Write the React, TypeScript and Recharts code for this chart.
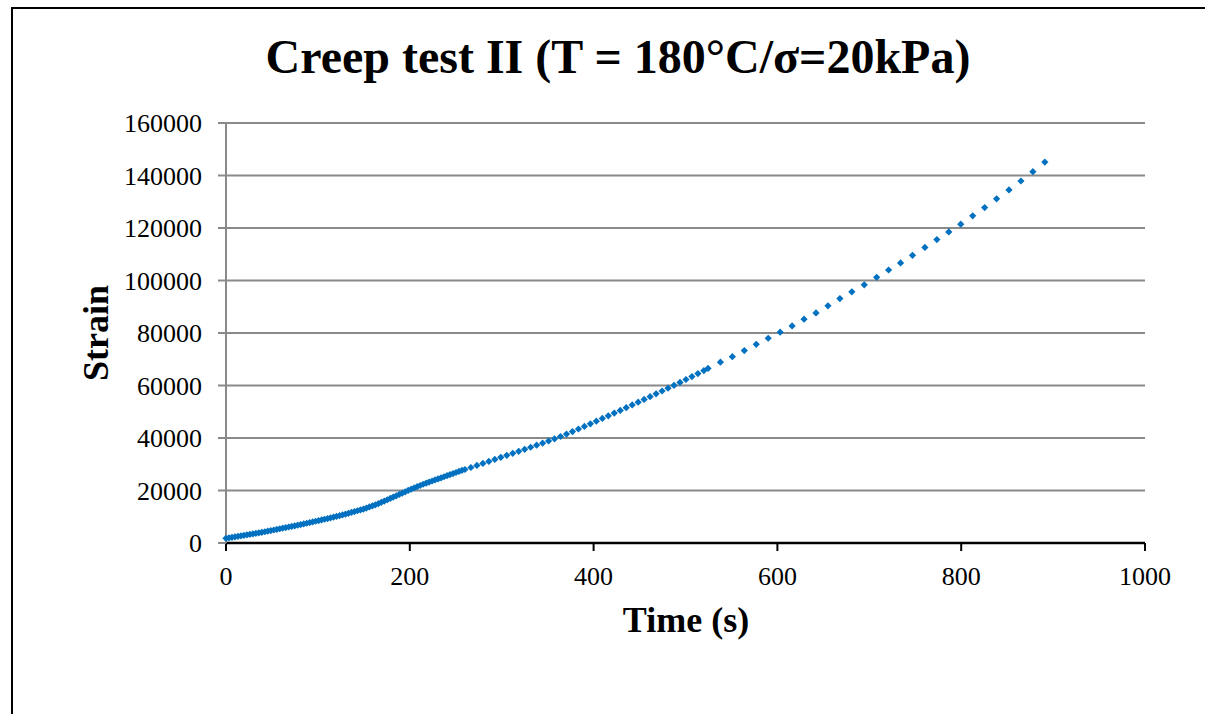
import { ScatterChart, Scatter, XAxis, YAxis, CartesianGrid } from 'recharts';

// creep test II: strain vs time
// primary / secondary stage, sampled densely
const EARLY: [number, number][] = [
  [0, 1800], [3.25, 1990], [6.5, 2180], [9.75, 2370], [13, 2550], [16.25, 2740], [19.5, 2930], [22.75, 3120],
  [26, 3310], [29.25, 3500], [32.5, 3690], [35.75, 3870], [39, 4060], [42.25, 4280], [45.5, 4500], [48.75, 4730],
  [52, 4960], [55.25, 5190], [58.5, 5420], [61.75, 5640], [65, 5870], [68.25, 6100], [71.5, 6330], [74.75, 6550],
  [78, 6780], [81.25, 7020], [84.5, 7270], [87.75, 7520], [91, 7780], [94.25, 8030], [97.5, 8290], [100.75, 8540],
  [104, 8790], [107.25, 9050], [110.5, 9300], [113.75, 9580], [117, 9860], [120.25, 10140], [123.5, 10420], [126.75, 10700],
  [130, 10980], [133.25, 11310], [136.5, 11630], [139.75, 11960], [143, 12280], [146.25, 12610], [149.5, 12930], [152.75, 13320],
  [156, 13730], [159.25, 14140], [162.5, 14540], [165.75, 14970], [169, 15480], [172.25, 15980], [175.5, 16480], [178.75, 16990],
  [182, 17490], [185.25, 17990], [188.5, 18500], [191.75, 19000], [195, 19510], [198.25, 20010], [201.5, 20500], [204.75, 20970],
  [208, 21440], [211.25, 21910], [214.5, 22380], [217.75, 22800], [221, 23210], [224.25, 23610], [227.5, 24020], [230.75, 24420],
  [234, 24830], [237.25, 25240], [240.5, 25640], [243.75, 26050], [247, 26460], [250.25, 26860], [253.5, 27270], [256.75, 27670],
];

// middle part, every ~6.5 s
const MIDDLE: [number, number][] = [
  [260, 28000], [266.5, 28770], [273, 29540], [279.5, 30310], [286, 31080], [292.5, 31850], [299, 32620], [305.5, 33390],
  [312, 34160], [318.5, 34930], [325, 35700], [331.5, 36470], [338, 37250], [344.5, 38040], [351, 38860], [357.5, 39700],
  [364, 40580], [370.5, 41500], [377, 42450], [383.5, 43420], [390, 44410], [396.5, 45410], [403, 46420], [409.5, 47440],
  [416, 48460], [422.5, 49490], [429, 50520], [435.5, 51560], [442, 52600], [448.5, 53650], [455, 54700], [461.5, 55760],
  [468, 56830], [474.5, 57900], [481, 58980], [487.5, 60070], [494, 61170], [500.5, 62280], [507, 63400], [513.5, 64530],
  [520, 65670], [524.5, 66500],
];

// late part, every ~13 s
const LATE: [number, number][] = [
  [538, 68900], [551, 71000], [564, 73300], [577, 75700], [590, 78000], [603, 80300], [616, 82700], [629, 85250],
  [642, 87650], [655, 90350], [668, 93100], [681, 95700], [694.5, 98350], [708, 101200], [721, 104000], [734, 106700],
  [747, 109600], [760.5, 112600], [773.5, 115600], [786.5, 118500], [799.5, 121450], [812.5, 124650], [825.5, 127800],
  [838.5, 131100], [852, 134500], [865, 137900], [878, 141450], [891, 145100],
];

const X_TICKS = [0, 200, 400, 600, 800, 1000];
const Y_TICKS = [0, 20000, 40000, 60000, 80000, 100000, 120000, 140000, 160000];

const data = [...EARLY, ...MIDDLE, ...LATE].map(([t, strain]) => ({ t, strain }));

const SERIF = '"Liberation Serif", "Times New Roman", serif';
const BLUE = '#0070c0';

function Diamond(props: any) {
  const { cx, cy } = props;
  if (cx == null || cy == null) return null;
  const r = 3.6;
  return <path d={`M${cx},${cy - r}L${cx + r},${cy}L${cx},${cy + r}L${cx - r},${cy}Z`} fill={BLUE} />;
}

export default function App() {
  return (
    <div style={{ position: 'fixed', left: 0, top: 0, width: 1205, height: 714, overflow: 'hidden', background: '#fff' }}>
      {/* outer chart frame, runs off the page on right and bottom */}
      <div style={{ position: 'absolute', left: 11, top: 7, width: 1300, height: 800, border: '2.5px solid #000' }} />

      <div
        style={{
          position: 'absolute', left: 18, top: 33, width: 1200, textAlign: 'center',
          fontFamily: SERIF, fontWeight: 'bold', fontSize: 48, lineHeight: '48px', color: '#000', whiteSpace: 'nowrap',
        }}
      >
        Creep test II (T = 180°C/σ=20kPa)
      </div>

      <ScatterChart width={1205} height={714} margin={{ top: 123, right: 60, bottom: 71, left: 76 }} style={{ position: 'absolute', left: 0, top: 0 }}>
        <CartesianGrid vertical={false} stroke="#8a8a8a" strokeWidth={2} />
        <XAxis
          type="number"
          dataKey="t"
          domain={[0, 1000]}
          ticks={X_TICKS}
          interval={0}
          height={100}
          tickSize={8}
          tickMargin={16}
          axisLine={{ stroke: '#000', strokeWidth: 2.5 }}
          tickLine={{ stroke: '#000', strokeWidth: 2 }}
          tick={{ fill: '#000', fontSize: 26, fontFamily: SERIF }}
        />
        <YAxis
          type="number"
          dataKey="strain"
          domain={[0, 160000]}
          ticks={Y_TICKS}
          interval={0}
          width={150}
          tickSize={8}
          tickMargin={16}
          axisLine={{ stroke: '#8a8a8a', strokeWidth: 2 }}
          tickLine={{ stroke: '#8a8a8a', strokeWidth: 2 }}
          tick={{ fill: '#000', fontSize: 26, fontFamily: SERIF }}
        />
        <Scatter data={data} shape={<Diamond />} isAnimationActive={false} />
      </ScatterChart>

      <div
        style={{
          position: 'absolute', left: 586, top: 602, width: 200, textAlign: 'center',
          fontFamily: SERIF, fontWeight: 'bold', fontSize: 36, lineHeight: '36px', color: '#000', whiteSpace: 'nowrap',
        }}
      >
        Time (s)
      </div>
      <div
        style={{
          position: 'absolute', left: 96 - 100, top: 333 - 18, width: 200, height: 36, textAlign: 'center',
          fontFamily: SERIF, fontWeight: 'bold', fontSize: 36, lineHeight: '36px', color: '#000', whiteSpace: 'nowrap',
          transform: 'rotate(-90deg)',
        }}
      >
        Strain
      </div>
    </div>
  );
}
